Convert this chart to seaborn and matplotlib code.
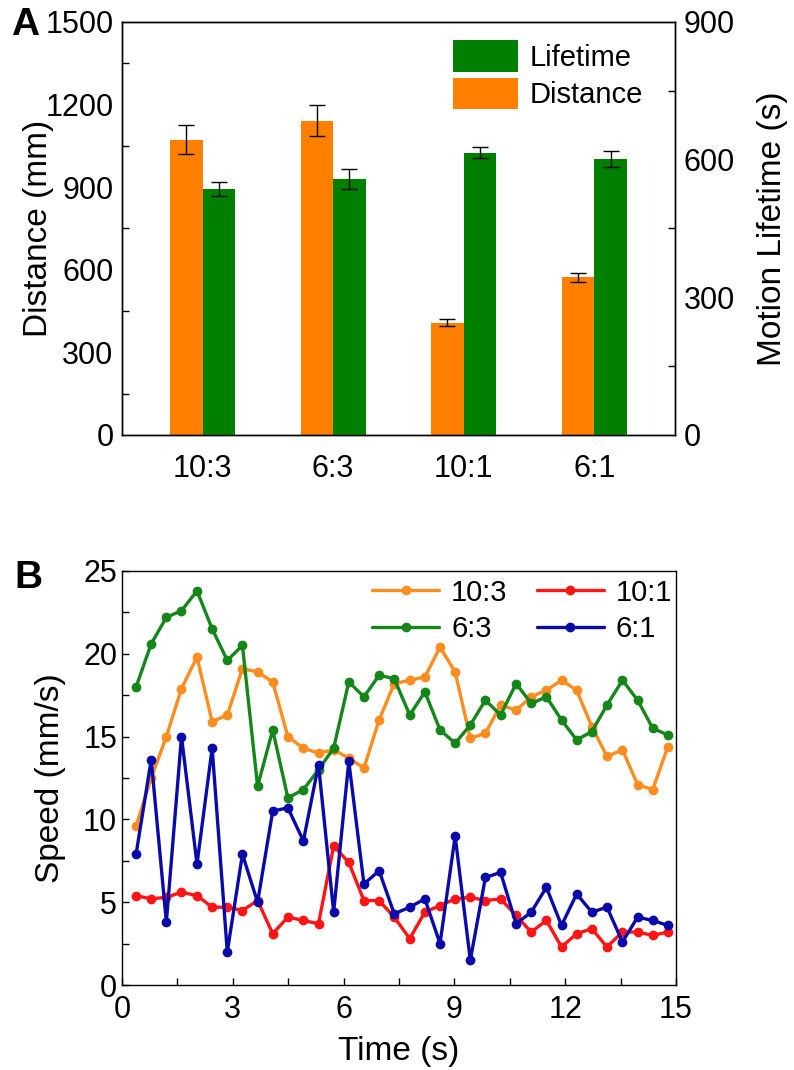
import numpy as np
import pandas as pd
import matplotlib
matplotlib.use('Agg')
import matplotlib.pyplot as plt
from matplotlib.ticker import MultipleLocator
import seaborn as sns

sns.set_style('ticks')
plt.rcParams['font.family'] = ['Liberation Sans', 'DejaVu Sans']
plt.rcParams['axes.linewidth'] = 1.0
for k in ['text.color', 'axes.labelcolor', 'xtick.color', 'ytick.color', 'axes.edgecolor']:
    plt.rcParams[k] = 'black'

# ---- datos panel A ----
ratios = ['10:3', '6:3', '10:1', '6:1']
distance = [1072, 1142, 407, 572]
distance_err = [52, 57, 13, 18]
lifetime = [536, 558, 615, 601]
lifetime_err = [15, 21, 12, 17]

# ---- datos panel B ----
time_s = [0.38, 0.79, 1.20, 1.61, 2.03, 2.44, 2.85, 3.26, 3.67, 4.08, 4.49, 4.91,
          5.32, 5.73, 6.14, 6.55, 6.96, 7.37, 7.79, 8.20, 8.61, 9.02, 9.43, 9.84,
          10.25, 10.67, 11.08, 11.49, 11.90, 12.31, 12.72, 13.13, 13.55, 13.96, 14.37, 14.78]
speed_10_3 = [9.6, 12.5, 15.0, 17.9, 19.8, 15.9, 16.3, 19.1, 18.9, 18.3, 15.0, 14.3,
              14.0, 14.2, 13.7, 13.1, 16.0, 18.2, 18.4, 18.6, 20.4, 18.9, 14.9, 15.2,
              16.9, 16.6, 17.4, 17.8, 18.4, 17.8, 15.6, 13.8, 14.2, 12.1, 11.8, 14.4]
speed_6_3 = [18.0, 20.6, 22.2, 22.6, 23.8, 21.5, 19.6, 20.5, 12.0, 15.4, 11.3, 11.8,
             13.0, 14.3, 18.3, 17.4, 18.7, 18.5, 16.3, 17.7, 15.4, 14.6, 15.7, 17.2,
             16.3, 18.2, 17.0, 17.4, 16.0, 14.8, 15.3, 16.9, 18.4, 17.2, 15.5, 15.1]
speed_10_1 = [5.4, 5.2, 5.3, 5.6, 5.4, 4.7, 4.7, 4.5, 5.1, 3.1, 4.1, 3.9,
              3.7, 8.4, 7.4, 5.1, 5.1, 4.1, 2.8, 4.4, 4.8, 5.2, 5.3, 5.1,
              5.2, 4.2, 3.2, 3.9, 2.3, 3.1, 3.4, 2.3, 3.2, 3.2, 3.0, 3.2]
speed_6_1 = [7.9, 13.6, 3.8, 15.0, 7.3, 14.3, 2.0, 7.9, 5.0, 10.5, 10.7, 8.7,
             13.3, 4.4, 13.5, 6.1, 6.9, 4.3, 4.7, 5.2, 2.5, 9.0, 1.5, 6.5,
             6.8, 3.7, 4.4, 5.9, 3.6, 5.5, 4.4, 4.7, 2.6, 4.1, 3.9, 3.6]

bar_colors = {'Distance': '#FF8000', 'Lifetime': '#007F00'}
line_colors = {'10:3': '#FF8C1E', '6:3': '#15861A', '10:1': '#FF1515', '6:1': '#0A0AAA'}

fig = plt.figure(figsize=(7.94, 10.70), dpi=100)

# ======== Panel A ========
axA = fig.add_axes([0.1533, 0.5935, 0.697, 0.386])
axA2 = axA.twinx()

df_dist = pd.DataFrame({'ratio': ratios, 'value': distance, 'series': 'Distance'})
df_life = pd.DataFrame({'ratio': ratios, 'value': lifetime, 'series': 'Lifetime'})

sns.barplot(data=df_dist, x='ratio', y='value', hue='series',
            hue_order=['Distance', 'Lifetime'], palette=bar_colors, order=ratios,
            width=0.5, gap=0, dodge=True, saturation=1, linewidth=0, errorbar=None,
            legend=False, ax=axA)
sns.barplot(data=df_life, x='ratio', y='value', hue='series',
            hue_order=['Distance', 'Lifetime'], palette=bar_colors, order=ratios,
            width=0.5, gap=0, dodge=True, saturation=1, linewidth=0, errorbar=None,
            legend=False, ax=axA2)

# barras de error en el centro de cada barra
for ax, errs in [(axA, distance_err), (axA2, lifetime_err)]:
    patches = [p for p in ax.patches if p.get_height() > 0]
    xs = [p.get_x() + p.get_width() / 2 for p in patches]
    hs = [p.get_height() for p in patches]
    ax.errorbar(xs, hs, yerr=errs, fmt='none', ecolor='black', elinewidth=1.0,
                capsize=6, capthick=1.0)

axA.set_xlim(-0.62, 3.62)
axA.set_ylim(0, 1500)
axA2.set_ylim(0, 900)
axA.yaxis.set_major_locator(MultipleLocator(300))
axA.yaxis.set_minor_locator(MultipleLocator(150))
axA2.yaxis.set_major_locator(MultipleLocator(300))
axA2.yaxis.set_minor_locator(MultipleLocator(150))
for ax in (axA, axA2):
    ax.tick_params(axis='both', which='major', length=0, labelsize=22, pad=6)
    ax.tick_params(axis='y', which='minor', direction='in', length=5, width=1)
    for s in ax.spines.values():
        s.set_visible(True)
        s.set_linewidth(1.0)
axA.set_xlabel('')
axA.set_ylabel('Distance (mm)', fontsize=24, labelpad=-6)
axA2.set_ylabel('Motion Lifetime (s)', fontsize=24, labelpad=16)
axA.tick_params(axis='x', pad=14)

life_patch = [p for p in axA2.patches if p.get_height() > 0][0]
dist_patch = [p for p in axA.patches if p.get_height() > 0][0]
axA2.legend([life_patch, dist_patch], ['Lifetime', 'Distance'], loc='upper right',
            bbox_to_anchor=(0.99, 1.02), frameon=False, fontsize=21,
            handlelength=2.25, handleheight=1.3, labelspacing=0.2, handletextpad=0.4)

fig.text(0.014, 0.977, 'A', fontsize=28, fontweight='bold', va='center')

# ======== Panel B ========
axB = fig.add_axes([0.1537, 0.0794, 0.6977, 0.387])
df_speed = pd.DataFrame({
    'time': time_s * 4,
    'speed': speed_10_3 + speed_6_3 + speed_10_1 + speed_6_1,
    'ratio': ['10:3'] * len(time_s) + ['6:3'] * len(time_s)
             + ['10:1'] * len(time_s) + ['6:1'] * len(time_s),
})
hue_order = ['10:3', '6:3', '10:1', '6:1']
sns.lineplot(data=df_speed, x='time', y='speed', hue='ratio', hue_order=hue_order,
             palette=line_colors, marker='o', markersize=6,
             linewidth=2.4, errorbar=None, legend=False, ax=axB)
lines = axB.get_lines()[:4]
for ln in lines:
    ln.set_markeredgecolor(ln.get_color())
    ln.set_markeredgewidth(1.0)

axB.set_xlim(0, 15)
axB.set_ylim(0, 25)
axB.xaxis.set_major_locator(MultipleLocator(3))
axB.xaxis.set_minor_locator(MultipleLocator(1.5))
axB.yaxis.set_major_locator(MultipleLocator(5))
axB.yaxis.set_minor_locator(MultipleLocator(2.5))
axB.tick_params(axis='both', which='major', direction='in', length=5, width=1, labelsize=22)
axB.tick_params(axis='both', which='minor', direction='in', length=5, width=1)
axB.tick_params(axis='x', pad=7)
for s in axB.spines.values():
    s.set_visible(True)
    s.set_linewidth(1.0)
axB.set_xlabel('Time (s)', fontsize=24, labelpad=8)
axB.set_ylabel('Speed (mm/s)', fontsize=24, labelpad=12)

axB.legend(lines, hue_order, ncol=2, loc='upper right', bbox_to_anchor=(1.04, 1.045),
           frameon=False, fontsize=21, handlelength=2.3, handletextpad=0.4,
           columnspacing=1.0, labelspacing=0.3)

fig.text(0.018, 0.46, 'B', fontsize=28, fontweight='bold', va='center')

fig.savefig('out.png', dpi=100)
